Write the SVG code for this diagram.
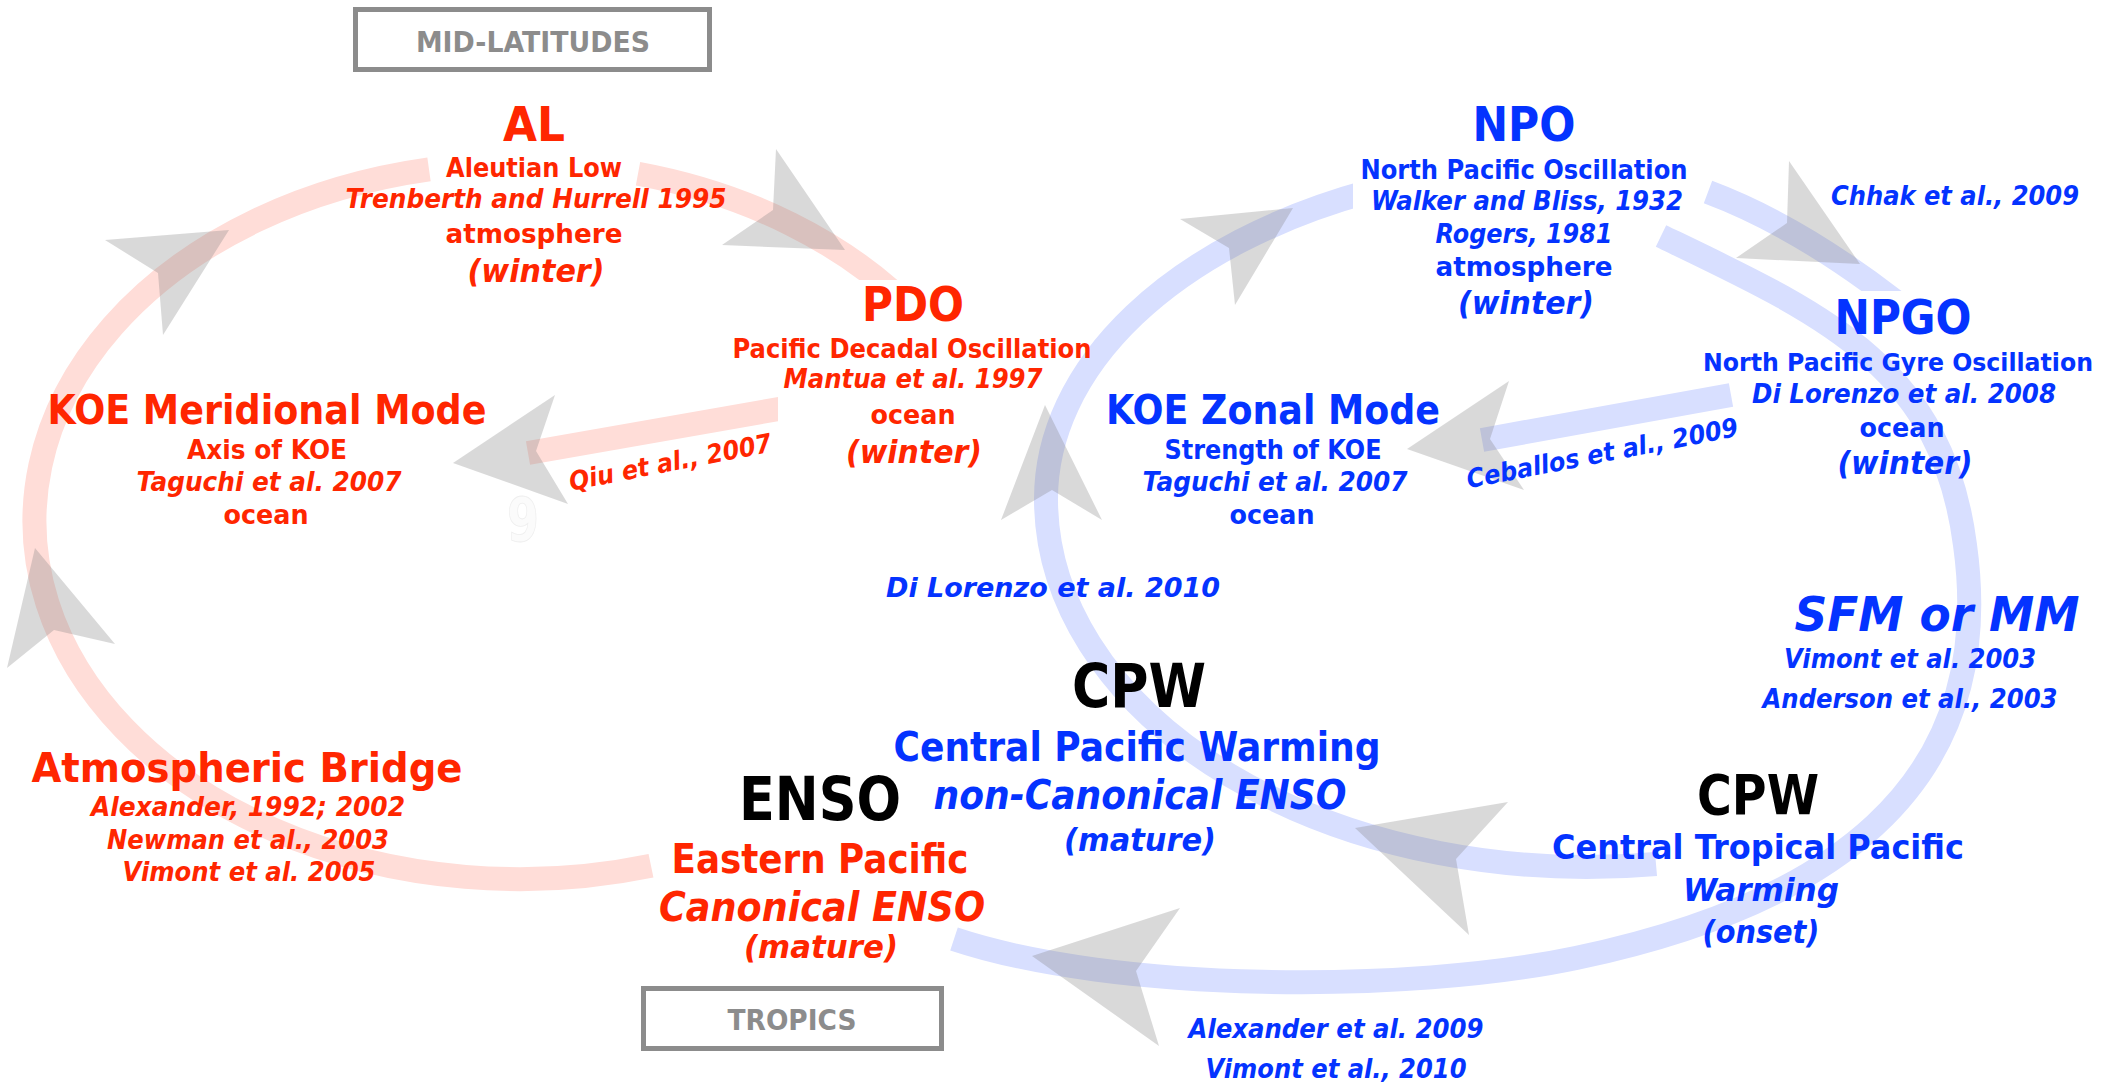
<svg xmlns="http://www.w3.org/2000/svg" width="2102" height="1089" viewBox="0 0 2102 1089">
  <defs>
    <style>
      text { font-family: "DejaVu Sans", "Liberation Sans", sans-serif; font-weight: bold; text-anchor: middle; }
      .red { fill: #ff2600; }
      .blue { fill: #0433ff; }
      .black { fill: #000000; }
      .gray { fill: #8c8c8c; }
      .it { font-style: italic; }
      .s24 { font-size: 24px; }
      .s26 { font-size: 26px; }
      .s27 { font-size: 27px; }
      .s29 { font-size: 29px; }
      .s32 { font-size: 32px; }
      .s34 { font-size: 34px; }
      .s40 { font-size: 40px; }
      .s48 { font-size: 48px; }
      .s55 { font-size: 55px; }
      .s60 { font-size: 60px; }
      .arc { fill: none; stroke-width: 24; stroke-linecap: butt; }
      .arc-r { stroke: #ffddd8; }
      .arc-b { stroke: #d8dfff; }
      .head { fill: #808080; fill-opacity: 0.3; }
      .frame { fill: #ffffff; stroke: #8c8c8c; stroke-width: 5; }
    </style>
    <clipPath id="clip-above-pdo"><rect x="0" y="0" width="2102" height="280"/></clipPath>
    <clipPath id="clip-above-npgo"><rect x="0" y="0" width="2102" height="291"/></clipPath>
    <clipPath id="clip-left-of-mantua"><rect x="0" y="0" width="778" height="1089"/></clipPath>
    <clipPath id="clip-npo-left"><path d="M0 0 H1353 V230 H2102 V1089 H0 Z"/></clipPath>
  </defs>

  <rect x="0" y="0" width="2102" height="1089" fill="#ffffff"/>

  <!-- connectors: broad translucent bands with dart-shaped heads -->
  <g id="connectors">
    <!-- red loop: ENSO -> Atmospheric Bridge -> KOE meridional -> AL -->
    <path class="arc arc-r" d="M 429 169.4 A 485 358 0 1 0 651 865.7"/>
    <!-- AL -> PDO -->
    <path class="arc arc-r" clip-path="url(#clip-above-pdo)" d="M 638 173.8 A 485 358 0 0 1 911.8 310"/>
    <!-- PDO -> KOE meridional mode -->
    <line class="arc arc-r" clip-path="url(#clip-left-of-mantua)" x1="528" y1="453" x2="790" y2="407"/>

    <!-- blue inner loop: CPW onset -> CPW mature -> NPO -->
    <path class="arc arc-b" clip-path="url(#clip-npo-left)" d="M 1370 191.2 A 541 336 0 0 0 1046 499 A 541 368 0 0 0 1656 864"/>
    <!-- NPO -> NPGO -->
    <path class="arc arc-b" clip-path="url(#clip-above-npgo)" d="M 1708 192 Q 1799 226 1900 305"/>
    <!-- blue outer loop: NPO -> NPGO -> SFM -> CPW onset -> ENSO -->
    <path class="arc arc-b" d="M 1661 236 C 1823 314 1942 366 1965 545 C 1999.5 792.5 1820.5 906.5 1576 958 C 1410 993 1115 992.7 954 939"/>
    <!-- NPGO -> KOE zonal mode -->
    <line class="arc arc-b" x1="1482" y1="440" x2="1731" y2="395"/>

    <!-- arrowheads -->
    <polygon class="head" points="229,230 105,240 158,273 163,335"/>
    <polygon class="head" points="35,548 7,668 54,630 115,644"/>
    <polygon class="head" points="845,250 776,149 773,210 722,245"/>
    <polygon class="head" points="453,463 555,395 536,451 568,504"/>
    <polygon class="head" points="1293,208 1180,219 1229,248 1235,305"/>
    <polygon class="head" points="1045,405 1001,520 1052,490 1102,520"/>
    <polygon class="head" points="1860,264 1789,161 1787,223 1736,258"/>
    <polygon class="head" points="1407,449 1509,381 1490,439 1524,490"/>
    <polygon class="head" points="1355,828 1508,802 1456,859 1469,935"/>
    <polygon class="head" points="1032,956 1180,908 1136,971 1159,1046"/>

    <!-- link references -->
    <text class="red it s26" transform="translate(672 471) rotate(-11)" textLength="206" lengthAdjust="spacingAndGlyphs">Qiu et al., 2007</text>
    <text class="blue it s26" transform="translate(1604 462) rotate(-11)" textLength="276" lengthAdjust="spacingAndGlyphs">Ceballos et al., 2009</text>
    <text class="blue it s26" x="1955" y="205" textLength="248" lengthAdjust="spacingAndGlyphs">Chhak et al., 2009</text>
    <text class="blue it s27" x="1053" y="597" textLength="334" lengthAdjust="spacingAndGlyphs">Di Lorenzo et al. 2010</text>
    <text class="blue it s27" x="1336" y="1038" textLength="295" lengthAdjust="spacingAndGlyphs">Alexander et al. 2009</text>
    <text class="blue it s27" x="1336" y="1078" textLength="261" lengthAdjust="spacingAndGlyphs">Vimont et al., 2010</text>
  </g>

  <!-- faint stray digit -->
  <text x="523" y="541" style="font-size:60px;fill:#fbfbfb;stroke:#eeeeee;stroke-width:0.8" textLength="32" lengthAdjust="spacingAndGlyphs">9</text>

  <!-- region labels -->
  <g id="label-midlatitudes">
    <rect class="frame" x="355.5" y="9.5" width="354" height="60"/>
    <text class="gray s29" x="533" y="52" textLength="234" lengthAdjust="spacingAndGlyphs">MID-LATITUDES</text>
  </g>
  <g id="label-tropics">
    <rect class="frame" x="643.5" y="988.5" width="298" height="60"/>
    <text class="gray s29" x="792" y="1030" textLength="129" lengthAdjust="spacingAndGlyphs">TROPICS</text>
  </g>

  <g id="node-al">
    <text class="red s48" x="534" y="141" textLength="62" lengthAdjust="spacingAndGlyphs">AL</text>
    <text class="red s26" x="534" y="177" textLength="176" lengthAdjust="spacingAndGlyphs">Aleutian Low</text>
    <text class="red it s26" x="536" y="208" textLength="381" lengthAdjust="spacingAndGlyphs">Trenberth and Hurrell 1995</text>
    <text class="red s26" x="534" y="243" textLength="177" lengthAdjust="spacingAndGlyphs">atmosphere</text>
    <text class="red it s32" x="536" y="282" textLength="137" lengthAdjust="spacingAndGlyphs">(winter)</text>
  </g>

  <g id="node-pdo">
    <text class="red s48" x="913" y="321" textLength="102" lengthAdjust="spacingAndGlyphs">PDO</text>
    <text class="red s26" x="912" y="358" textLength="359" lengthAdjust="spacingAndGlyphs">Pacific Decadal Oscillation</text>
    <text class="red it s26" x="913" y="388" textLength="259" lengthAdjust="spacingAndGlyphs">Mantua et al. 1997</text>
    <text class="red s26" x="913" y="424" textLength="85" lengthAdjust="spacingAndGlyphs">ocean</text>
    <text class="red it s32" x="914" y="463" textLength="136" lengthAdjust="spacingAndGlyphs">(winter)</text>
  </g>

  <g id="node-koe-meridional">
    <text class="red s40" x="267" y="424" textLength="439" lengthAdjust="spacingAndGlyphs">KOE Meridional Mode</text>
    <text class="red s26" x="267" y="459" textLength="160" lengthAdjust="spacingAndGlyphs">Axis of KOE</text>
    <text class="red it s26" x="269" y="491" textLength="265" lengthAdjust="spacingAndGlyphs">Taguchi et al. 2007</text>
    <text class="red s26" x="266" y="524" textLength="85" lengthAdjust="spacingAndGlyphs">ocean</text>
  </g>

  <g id="node-atmospheric-bridge">
    <text class="red s40" x="247" y="782" textLength="431" lengthAdjust="spacingAndGlyphs">Atmospheric Bridge</text>
    <text class="red it s26" x="248" y="816" textLength="314" lengthAdjust="spacingAndGlyphs">Alexander, 1992; 2002</text>
    <text class="red it s26" x="248" y="849" textLength="282" lengthAdjust="spacingAndGlyphs">Newman et al., 2003</text>
    <text class="red it s26" x="249" y="881" textLength="253" lengthAdjust="spacingAndGlyphs">Vimont et al. 2005</text>
  </g>

  <g id="node-enso">
    <text class="black s60" x="820" y="820" textLength="162" lengthAdjust="spacingAndGlyphs">ENSO</text>
    <text class="red s40" x="820" y="873" textLength="297" lengthAdjust="spacingAndGlyphs">Eastern Pacific</text>
    <text class="red it s40" x="822" y="921" textLength="326" lengthAdjust="spacingAndGlyphs">Canonical ENSO</text>
    <text class="red it s32" x="821" y="958" textLength="154" lengthAdjust="spacingAndGlyphs">(mature)</text>
  </g>

  <g id="node-cpw-mature">
    <text class="black s60" x="1139" y="707" textLength="134" lengthAdjust="spacingAndGlyphs">CPW</text>
    <text class="blue s40" x="1137" y="761" textLength="487" lengthAdjust="spacingAndGlyphs">Central Pacific Warming</text>
    <text class="blue it s40" x="1140" y="809" textLength="413" lengthAdjust="spacingAndGlyphs">non-Canonical ENSO</text>
    <text class="blue it s32" x="1140" y="851" textLength="152" lengthAdjust="spacingAndGlyphs">(mature)</text>
  </g>

  <g id="node-cpw-onset">
    <text class="black s55" x="1758" y="814" textLength="122" lengthAdjust="spacingAndGlyphs">CPW</text>
    <text class="blue s34" x="1758" y="859" textLength="412" lengthAdjust="spacingAndGlyphs">Central Tropical Pacific</text>
    <text class="blue it s32" x="1761" y="901" textLength="156" lengthAdjust="spacingAndGlyphs">Warming</text>
    <text class="blue it s32" x="1761" y="943" textLength="117" lengthAdjust="spacingAndGlyphs">(onset)</text>
  </g>

  <g id="node-sfm">
    <text class="blue it s48" x="1937" y="631" textLength="285" lengthAdjust="spacingAndGlyphs">SFM or MM</text>
    <text class="blue it s26" x="1910" y="668" textLength="252" lengthAdjust="spacingAndGlyphs">Vimont et al. 2003</text>
    <text class="blue it s26" x="1910" y="708" textLength="295" lengthAdjust="spacingAndGlyphs">Anderson et al., 2003</text>
  </g>

  <g id="node-npo">
    <text class="blue s48" x="1524" y="141" textLength="103" lengthAdjust="spacingAndGlyphs">NPO</text>
    <text class="blue s26" x="1524" y="179" textLength="327" lengthAdjust="spacingAndGlyphs">North Pacific Oscillation</text>
    <text class="blue it s26" x="1527" y="210" textLength="312" lengthAdjust="spacingAndGlyphs">Walker and Bliss, 1932</text>
    <text class="blue it s26" x="1524" y="243" textLength="177" lengthAdjust="spacingAndGlyphs">Rogers, 1981</text>
    <text class="blue s26" x="1524" y="276" textLength="177" lengthAdjust="spacingAndGlyphs">atmosphere</text>
    <text class="blue it s32" x="1526" y="314" textLength="136" lengthAdjust="spacingAndGlyphs">(winter)</text>
  </g>

  <g id="node-npgo">
    <text class="blue s48" x="1903" y="334" textLength="137" lengthAdjust="spacingAndGlyphs">NPGO</text>
    <text class="blue s24" x="1898" y="371" textLength="390" lengthAdjust="spacingAndGlyphs">North Pacific Gyre Oscillation</text>
    <text class="blue it s26" x="1904" y="403" textLength="304" lengthAdjust="spacingAndGlyphs">Di Lorenzo et al. 2008</text>
    <text class="blue s26" x="1902" y="437" textLength="85" lengthAdjust="spacingAndGlyphs">ocean</text>
    <text class="blue it s32" x="1905" y="474" textLength="135" lengthAdjust="spacingAndGlyphs">(winter)</text>
  </g>

  <g id="node-koe-zonal">
    <text class="blue s40" x="1273" y="424" textLength="334" lengthAdjust="spacingAndGlyphs">KOE Zonal Mode</text>
    <text class="blue s26" x="1273" y="459" textLength="217" lengthAdjust="spacingAndGlyphs">Strength of KOE</text>
    <text class="blue it s26" x="1275" y="491" textLength="265" lengthAdjust="spacingAndGlyphs">Taguchi et al. 2007</text>
    <text class="blue s26" x="1272" y="524" textLength="85" lengthAdjust="spacingAndGlyphs">ocean</text>
  </g>
</svg>
